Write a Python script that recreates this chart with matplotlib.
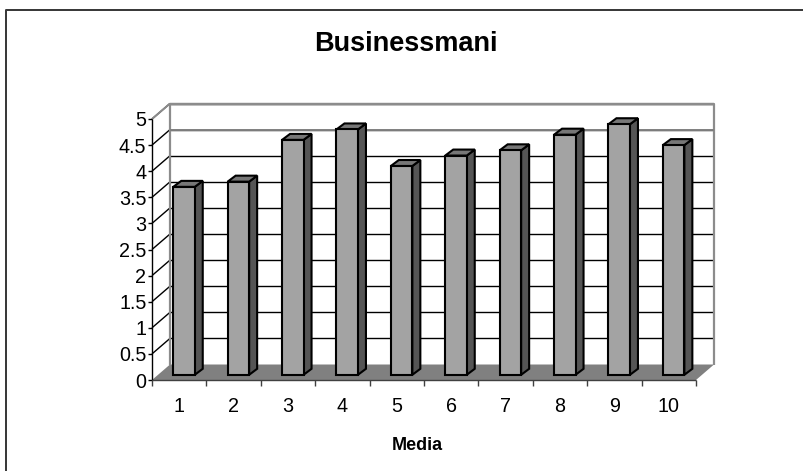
import matplotlib
matplotlib.use("Agg")
import matplotlib.pyplot as plt
from matplotlib.patches import Polygon, Rectangle

categories = [1, 2, 3, 4, 5, 6, 7, 8, 9, 10]
values = [3.6, 3.7, 4.5, 4.7, 4.0, 4.2, 4.3, 4.6, 4.8, 4.4]
y_ticks = [0, 0.5, 1, 1.5, 2, 2.5, 3, 3.5, 4, 4.5, 5]
y_labels = ["0", "0.5", "1", "1.5", "2", "2.5", "3", "3.5", "4", "4.5", "5"]
title = "Businessmani"
xlabel = "Media"

W, H = 804, 471
plt.rcParams['font.family'] = ['Liberation Sans', 'DejaVu Sans']
fig = plt.figure(figsize=(W / 100, H / 100), dpi=100)
fig.patch.set_facecolor('white')

# Front plane of the 3-D box
L, R, B, T = 152.0, 696.0, 380.0, 119.0
ax = fig.add_axes([L / W, 1 - B / H, (R - L) / W, (B - T) / H])
ax.set_xlim(0.5, 10.5)
ax.set_ylim(0, 5)
ax.axis('off')

ux = (R - L) / 10
uy = (B - T) / 5
DX, DY = 18 / ux, 15.5 / uy          # box depth, in data units
bw = 21.5 / ux                       # bar face width
bx, by = 8 / ux, 6 / uy              # bar depth
ox, oy = 4.8 / ux, 5.2 / uy          # bar offset from front plane

def poly(pts, **kw):
    p = Polygon(pts, closed=True, clip_on=False, **kw)
    ax.add_patch(p)

def line(xs, ys, **kw):
    ax.plot(xs, ys, clip_on=False, solid_capstyle='butt', **kw)

x0, x1 = 0.5, 10.5
# floor
poly([(x0, 0), (x1, 0), (x1 + DX, DY), (x0 + DX, DY)], fc='#808080', ec='none', zorder=1)
# gridlines: side + back wall
for t in y_ticks[1:]:
    line([x0, x0 + DX], [t, t + DY], color='black', lw=1, zorder=2)
    line([x0 + DX, x1 + DX], [t + DY, t + DY], color='black', lw=1, zorder=2)
# walls' outline
line([x0 + DX, x0 + DX, x1 + DX, x1 + DX], [DY, 5 + DY, 5 + DY, DY], color='#8c8c8c', lw=1.6, zorder=3)
line([x0 + DX, x1 + DX], [5 + DY, 5 + DY], color='#8c8c8c', lw=1.6, zorder=3)
line([x0 + DX, x1 + DX], [4.5 + DY, 4.5 + DY], color='#808080', lw=1.4, zorder=3)
line([x0, x0 + DX], [5, 5 + DY], color='#8c8c8c', lw=1.4, zorder=3)
line([x0, x0], [0, 5], color='black', lw=1, zorder=5)
line([x0, x1], [0, 0], color='#404040', lw=1, zorder=5)

# axis ticks
for t, s in zip(y_ticks, y_labels):
    line([x0 - 4 / ux, x0], [t, t], color='black', lw=1, zorder=5)
    ax.text(x0 - 5.5 / ux, t, s, ha='right', va='center_baseline', fontsize=14.2, color='black')
for i in range(11):
    line([x0 + i, x0 + i], [0, -6 / uy], color='#404040', lw=1, zorder=5)
for c in categories:
    ax.annotate(str(c), (c, 0), xytext=(0, -24), textcoords='offset pixels',
                ha='center', va='center_baseline', fontsize=14.2, color='black')

# bars
edge = dict(ec='black', lw=1.5, joinstyle='miter')
for c, v in zip(categories, values):
    a = c - bw / 2 + ox
    b = a + bw
    base = oy
    top = base + v
    z = 10 + c
    poly([(b, base), (b + bx, base + by), (b + bx, top + by), (b, top)], fc='#555555', zorder=z, **edge)
    poly([(a, top), (b, top), (b + bx, top + by), (a + bx, top + by)], fc='#777777', zorder=z, **edge)
    ax.add_patch(Rectangle((a, base), bw, v, fc='#a3a3a3', clip_on=False, zorder=z, **edge))

# chart frame
fig.add_artist(plt.Line2D([6 / W, 6 / W, 1], [0, 1 - 10 / H, 1 - 10 / H],
                          color='#3a3a3a', lw=1.44))

fig.text(405.5 / W, 1 - 44 / H, title, ha='center', va='center', fontsize=19.5, fontweight='bold')
fig.text(417 / W, 1 - 446 / H, xlabel, ha='center', va='center', fontsize=13, fontweight='bold')

fig.savefig('out.png', dpi=100)
